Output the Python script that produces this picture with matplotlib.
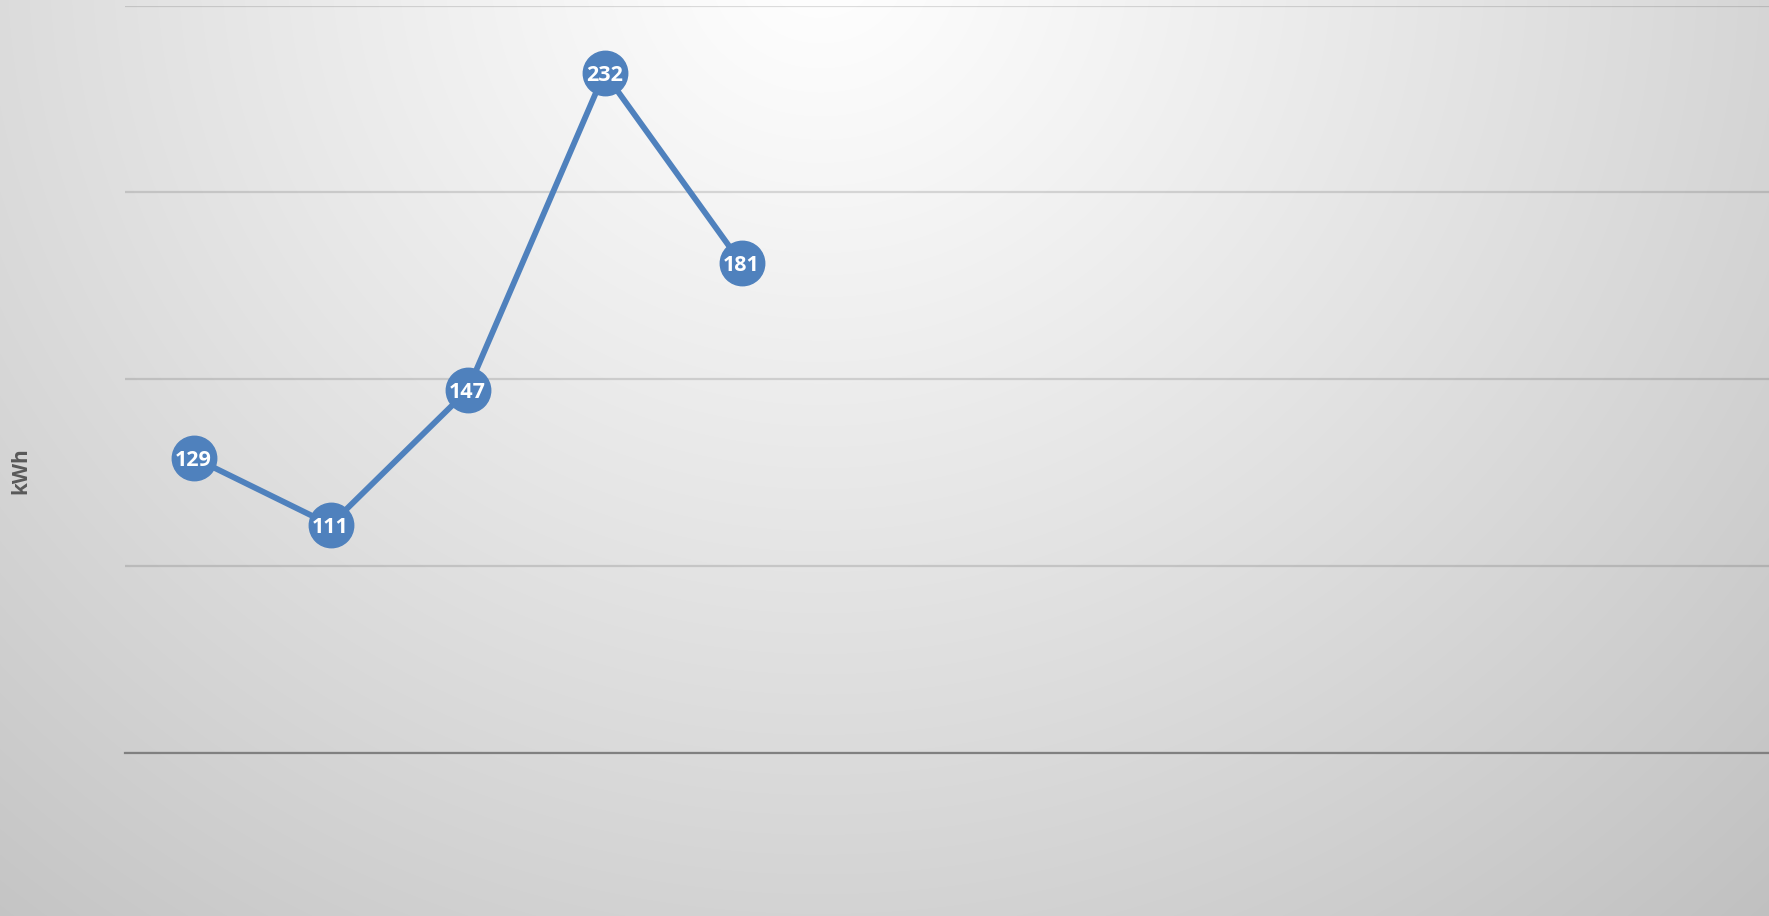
import numpy as np
import matplotlib
matplotlib.use('Agg')
import matplotlib.pyplot as plt

# monthly consumption, only first five months filled in
months = ['Jan', 'Feb', 'Mar', 'Apr', 'May', 'Jun',
          'Jul', 'Aug', 'Sep', 'Oct', 'Nov', 'Dec']
kwh = [129, 111, 147, 232, 181, np.nan, np.nan, np.nan, np.nan, np.nan, np.nan, np.nan]
yticks = [50, 100, 150, 200, 250]

W, H = 1769, 916
fig = plt.figure(figsize=(W / 100, H / 100), dpi=100)

# radial gradient background (light at top centre)
bg = fig.add_axes([0, 0, 1, 1])
yy, xx = np.mgrid[0:H, 0:W]
d = np.sqrt((xx - 820.0) ** 2 + ((yy + 40.0) * 1.05) ** 2)
shade = 1.0 - 0.23 * (d / 1300.0) ** 1.1
shade = np.clip(shade, 0, 1)
bg.imshow(np.dstack([shade, shade, shade]), aspect='auto', extent=[0, 1, 0, 1], origin='upper')
bg.axis('off')

ax = fig.add_axes([125 / W, (H - 752.7) / H, (W - 125) / W, (752.7 - 5.6) / H])
ax.patch.set_alpha(0)

x = np.arange(len(months))
ax.plot(x, kwh, '-', color='#4f81bd', lw=4.2, zorder=3)
ax.plot(x, kwh, 'o', color='#4f81bd', ms=32, mec='#4f81bd', zorder=4)
for xi, v in zip(x, kwh):
    if not np.isnan(v):
        ax.text(xi, v, '{:d}'.format(int(v)), ha='center', va='center_baseline', color='white',
                fontsize=15.5, fontweight='bold', family='Open Sans', zorder=5)

ax.set_xlim(-0.5, 11.5)
ax.set_ylim(50, 250)
ax.set_yticks(yticks)
ax.set_xticks(x)
ax.tick_params(left=False, bottom=False, labelleft=False, labelbottom=False)
ax.grid(axis='y', color='black', alpha=0.13, lw=1.6)
for s in ['top', 'right', 'left']:
    ax.spines[s].set_visible(False)
ax.spines['bottom'].set_color('#808080')
ax.spines['bottom'].set_linewidth(1.6)

fig.text(21 / W, 1 - 471 / H, 'kWh', rotation=90, ha='center', va='center',
         color='#595959', fontsize=15, fontweight='bold', family='Open Sans')

fig.savefig('out.png', dpi=100)
